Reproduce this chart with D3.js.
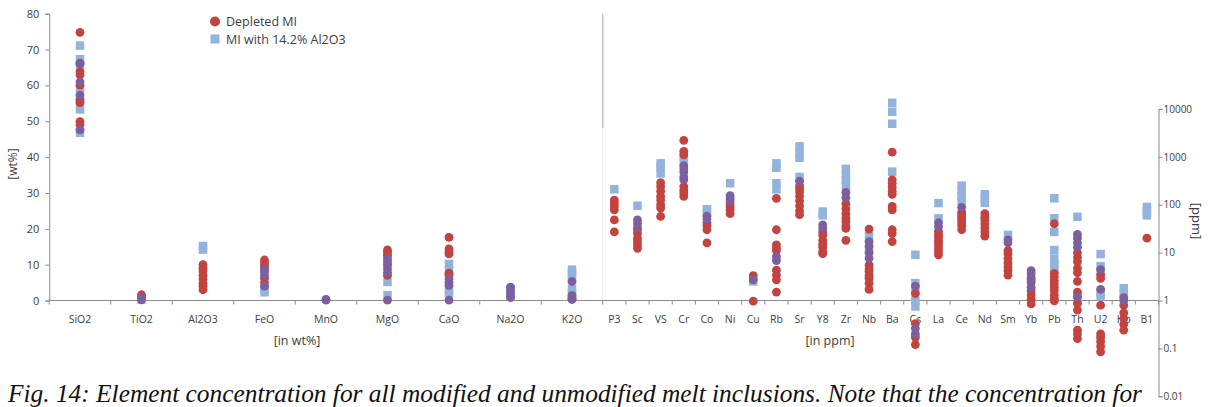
<!DOCTYPE html>
<html>
<head>
<meta charset="utf-8">
<script src="https://cdn.jsdelivr.net/npm/d3@7"></script>
<style>
  html, body { margin: 0; padding: 0; background: #fff; }
  svg { display: block; }
  .lbl { font-family: "Open Sans", "Noto Sans", sans-serif; fill: #404040; }
  .caption { font-family: "Liberation Serif", "DejaVu Serif", serif; font-style: italic; fill: #111; }
</style>
</head>
<body>
<svg id="chart" width="1212" height="407"></svg>
<script>
// Major oxides (wt%) and trace elements (ppm)
const oxides = ["SiO2","TiO2","Al2O3","FeO","MnO","MgO","CaO","Na2O","K2O"];
const traces = ["P3","Sc","VS","Cr","Co","Ni","Cu","Rb","Sr","Y8","Zr","Nb","Ba","Cs","La","Ce","Nd","Sm","Yb","Pb","Th","U2","Ho","B1"];

const wtTicks = [0,10,20,30,40,50,60,70,80];
const ppmTicks = [0.01,0.1,1,10,100,1000,10000];

// Depleted melt inclusions, one list per oxide
const depletedWt = [
  [74.8, 66.2, 63.8, 62.9, 60.1, 55.9, 55.2, 49.9, 49.0],
  [1.6, 1.0],
  [10.0, 9.0, 8.2, 7.0, 6.0, 4.8, 4.0, 3.0],
  [11.3, 10.5, 9.6, 6.2, 5.0],
  [],
  [14.1, 13.5, 12.6, 7.0],
  [17.6, 14.4, 13.6, 13.0, 7.6, 7.0],
  [],
  [0.8, 0.3]
];
// Inclusions recalculated to 14.2% Al2O3
const correctedWt = [
  [71.1, 67.3, 65.5, 59.0, 55.8, 53.3, 46.8],
  [0.3],
  [15.2, 14.2],
  [9.0, 3.2, 2.3],
  [],
  [12.0, 5.2, 1.5],
  [10.2, 8.5, 3.0, 2.0],
  [3.2],
  [8.6, 7.4, 6.5, 3.2, 2.2]
];
// Values common to both sets
const sharedWt = [
  [66.0, 61.0, 57.3, 47.6],
  [0.8, 0.2],
  [],
  [8.8, 8.0, 7.0, 4.0],
  [0.3, 0.1],
  [11.5, 10.5, 9.8, 8.8, 7.8, 0.1],
  [6.0, 5.0, 4.2, 0.1],
  [3.7, 3.0, 2.0, 1.2, 0.8],
  [5.3, 1.4, 0.4]
];

const depletedPpm = [
  [125, 108, 92, 78, 48, 27],
  [30, 25, 20, 17, 14.5, 12.3],
  [290, 240, 190, 150, 125, 100, 85, 57],
  [2200, 1300, 1100, 240, 200, 175, 150],
  [42, 36, 30, 16],
  [105, 90, 78, 65],
  [3.3, 0.97],
  [136, 30, 14.5, 12.5, 11, 4.3, 3.4, 2.7, 1.5],
  [250, 215, 185, 150, 120, 95, 75, 62],
  [27, 23, 18, 15, 13, 10.5, 9.5],
  [105, 82, 65, 52, 44, 36, 32, 18],
  [31, 5.5, 4.6, 4.0, 3.3, 2.9, 2.3, 1.7],
  [1250, 330, 280, 230, 190, 165, 92, 78, 30, 25, 17],
  [1.4, 0.33, 0.17, 0.12],
  [28, 24, 21, 18, 16, 14, 12, 10.5, 9],
  [70, 62, 55, 48, 42, 36, 30],
  [65, 55, 48, 40, 33, 27, 22],
  [11, 9.5, 7.5, 6.0, 5.0, 4.2, 3.4],
  [3.0, 2.4, 1.6, 1.3, 1.05, 0.85],
  [40, 3.7, 3.1, 2.6, 2.2, 1.9, 1.6, 1.3, 1.1, 0.98],
  [10, 8, 6.5, 4.7, 3.8, 2.5, 1.5, 0.87, 0.63, 0.24, 0.2, 0.16],
  [3.5, 2.9, 0.8, 0.2, 0.17, 0.14, 0.11, 0.085],
  [0.8, 0.55, 0.42, 0.32, 0.24],
  [20]
];
const correctedPpm = [
  [210],
  [95],
  [730, 600, 450],
  [980, 800],
  [80, 68],
  [280],
  [2.5],
  [730, 590, 280, 210],
  [1650, 1250, 950, 380],
  [72, 60],
  [560, 420, 330, 250],
  [22, 11],
  [13400, 8700, 4900, 490],
  [9.0, 2.3, 1.6, 1.0, 0.75],
  [108, 52],
  [250, 200, 150, 120],
  [165, 140, 110],
  [23.5],
  [],
  [136, 52, 27, 11.3, 7.5, 5.5, 4.5],
  [56, 1.3, 1.0],
  [9.3, 5.2, 1.5, 1.2],
  [1.8, 1.4],
  [90, 75, 60]
];
const sharedPpm = [
  [],
  [48, 40, 33],
  [],
  [650, 560, 480, 380, 330],
  [58, 50],
  [155, 135, 120],
  [2.7],
  [8.2, 6.8],
  [310],
  [38, 32],
  [180, 140],
  [17, 13.5, 10, 7.6],
  [],
  [2.0, 0.26, 0.2],
  [42, 35],
  [88],
  [],
  [18.5, 16],
  [4.2, 3.6, 2.7, 1.9],
  [],
  [24, 20, 16, 13, 1.2],
  [4.4, 1.7],
  [1.15, 1.0],
  []
];

const legendLabels = ["Depleted MI", "MI with 14.2% Al2O3"];
const captionText = "Fig. 14: Element concentration for all modified and unmodified melt inclusions. Note that the concentration for";

const RED = "#c3433f", BLUE = "#92b4dc", PURPLE = "#7d5fa0";

const svg = d3.select("#chart");

// Layout
const left = 49.25, split = 602.75, right = 1158.5;
const baseY = 300.5;

const xWt = d3.scaleBand().domain(oxides).range([left, split]).padding(0);
const xPpm = d3.scaleBand().domain(traces).range([split, right]).padding(0);
const yWt = d3.scaleLinear().domain([0, 80]).range([baseY, 13.7]);
const yPpm = d3.scaleLog().domain([0.01, 10000]).range([baseY + 2 * 47.9, baseY - 4 * 47.9]);

function flatten(cats, arrays, x, y) {
  const out = [];
  arrays.forEach((vals, i) => vals.forEach(v => out.push({ cx: x(cats[i]) + x.bandwidth() / 2, cy: y(v) })));
  return out;
}

// Separator between the two panels
svg.append("line").attr("x1", split).attr("x2", split).attr("y1", 13.7).attr("y2", 128)
  .attr("stroke", "#b4b4b4").attr("stroke-width", 1.2);
svg.append("line").attr("x1", split).attr("x2", split).attr("y1", 128).attr("y2", baseY)
  .attr("stroke", "#ececec").attr("stroke-width", 1);

// Left axis (wt%)
const gL = svg.append("g").attr("transform", `translate(${left},0)`)
  .call(d3.axisLeft(yWt).tickValues(wtTicks).tickSize(4).tickPadding(6));
gL.select(".domain").attr("stroke", "#8c8c8c");
gL.selectAll(".tick line").attr("stroke", "#8c8c8c");
gL.selectAll("text").attr("class", "lbl").style("font-size", "11px").attr("fill", "#404040");

// Right axis (ppm, log)
const gR = svg.append("g").attr("transform", `translate(${right},0)`)
  .call(d3.axisRight(yPpm).tickValues(ppmTicks).tickSize(4).tickPadding(1).tickFormat(d => String(d)));
gR.select(".domain").attr("stroke", "#8c8c8c");
gR.selectAll(".tick line").attr("stroke", "#8c8c8c");
gR.selectAll("text").attr("class", "lbl").style("font-size", "10px").attr("fill", "#505050");

// Bottom baseline
svg.append("line").attr("x1", left).attr("x2", right).attr("y1", baseY).attr("y2", baseY)
  .attr("stroke", "#8c8c8c");

// Category tick marks between bands
const edges = oxides.map(c => xWt(c)).concat(traces.map(c => xPpm(c))).concat([right]);
svg.append("g").selectAll("line").data(edges).join("line")
  .attr("x1", d => d).attr("x2", d => d).attr("y1", baseY).attr("y2", baseY + 4)
  .attr("stroke", "#8c8c8c");

// Category labels
const gBL = svg.append("g").attr("transform", `translate(0,${baseY})`)
  .call(d3.axisBottom(xWt).tickSize(0).tickPadding(15));
gBL.select(".domain").remove();
gBL.selectAll("text").attr("class", "lbl").style("font-size", "10.5px").attr("fill", "#404040");
const gBR = svg.append("g").attr("transform", `translate(0,${baseY})`)
  .call(d3.axisBottom(xPpm).tickSize(0).tickPadding(15));
gBR.select(".domain").remove();
gBR.selectAll("text").attr("class", "lbl").style("font-size", "10.5px").attr("fill", "#404040");

// Axis titles
svg.append("text").attr("class", "lbl").attr("x", 297).attr("y", 345)
  .attr("text-anchor", "middle").style("font-size", "12.5px").text("[in wt%]");
svg.append("text").attr("class", "lbl").attr("x", 830).attr("y", 345)
  .attr("text-anchor", "middle").style("font-size", "12.5px").text("[in ppm]");
svg.append("text").attr("class", "lbl").attr("transform", "translate(17,164) rotate(-90)")
  .attr("text-anchor", "middle").style("font-size", "12px").text("[wt%]");
svg.append("text").attr("class", "lbl").attr("transform", "translate(1192,221) rotate(90)")
  .attr("text-anchor", "middle").style("font-size", "13px").text("[ppm]");

// Markers
const sq = 8.5, r = 4.4;
const blues = flatten(oxides, correctedWt, xWt, yWt).concat(flatten(traces, correctedPpm, xPpm, yPpm));
const reds = flatten(oxides, depletedWt, xWt, yWt).concat(flatten(traces, depletedPpm, xPpm, yPpm));
const purples = flatten(oxides, sharedWt, xWt, yWt).concat(flatten(traces, sharedPpm, xPpm, yPpm));

svg.append("g").selectAll("rect").data(blues).join("rect")
  .attr("x", d => d.cx - sq / 2).attr("y", d => d.cy - sq / 2)
  .attr("width", sq).attr("height", sq).attr("fill", BLUE);
svg.append("g").selectAll("circle").data(reds).join("circle")
  .attr("cx", d => d.cx).attr("cy", d => d.cy).attr("r", r).attr("fill", RED);
svg.append("g").selectAll("circle").data(purples).join("circle")
  .attr("cx", d => d.cx).attr("cy", d => d.cy).attr("r", r).attr("fill", PURPLE);

// Legend
const lg = svg.append("g");
lg.append("circle").attr("cx", 215).attr("cy", 21.5).attr("r", 5).attr("fill", RED);
lg.append("rect").attr("x", 210.5).attr("y", 34.5).attr("width", 9).attr("height", 9).attr("fill", BLUE);
lg.append("text").attr("class", "lbl").attr("x", 226).attr("y", 26)
  .style("font-size", "12.5px").attr("fill", "#333").text(legendLabels[0]);
lg.append("text").attr("class", "lbl").attr("x", 226).attr("y", 43.5)
  .style("font-size", "12.5px").attr("fill", "#333").text(legendLabels[1]);

// Caption, scaled to span the page width
const cap = svg.append("text").attr("class", "caption").attr("x", 8).attr("y", 402)
  .style("font-size", "20px").text(captionText);
const w = cap.node().getComputedTextLength();
cap.style("font-size", (20 * 1134 / w).toFixed(2) + "px");
</script>
</body>
</html>
